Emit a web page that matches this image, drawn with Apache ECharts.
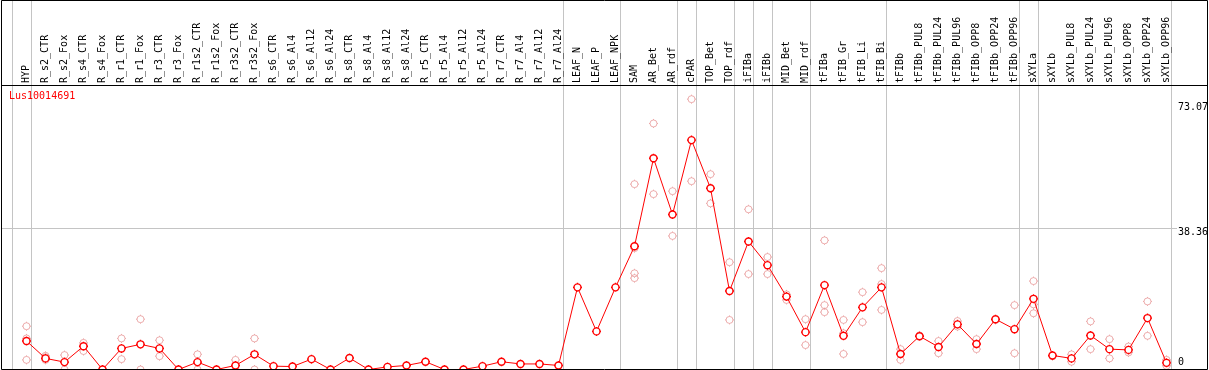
<!DOCTYPE html>
<html><head><meta charset="utf-8">
<script src="https://cdn.jsdelivr.net/npm/echarts@6/dist/echarts.min.js"></script>
<style>html,body{margin:0;padding:0;background:#fff;overflow:hidden}#c{width:1209px;height:370px}</style>
</head><body><div id="c"></div><script>
const geneName = 'Lus10014691';
const categories = ['HYP','R_s2_CTR','R_s2_Fox','R_s4_CTR','R_s4_Fox','R_r1_CTR','R_r1_Fox','R_r3_CTR','R_r3_Fox','R_r1s2_CTR','R_r1s2_Fox','R_r3s2_CTR','R_r3s2_Fox','R_s6_CTR','R_s6_Al4','R_s6_Al12','R_s6_Al24','R_s8_CTR','R_s8_Al4','R_s8_Al12','R_s8_Al24','R_r5_CTR','R_r5_Al4','R_r5_Al12','R_r5_Al24','R_r7_CTR','R_r7_Al4','R_r7_Al12','R_r7_Al24','LEAF_N','LEAF_P','LEAF_NPK','SAM','AR_Bet','AR_rdf','cPAR','TOP_Bet','TOP_rdf','iFIBa','iFIBb','MID_Bet','MID_rdf','tFIBa','tFIB_Gr','tFIB_Li','tFIB_Bi','tFIBb','tFIBb_PUL8','tFIBb_PUL24','tFIBb_PUL96','tFIBb_OPP8','tFIBb_OPP24','tFIBb_OPP96','sXYLa','sXYLb','sXYLb_PUL8','sXYLb_PUL24','sXYLb_PUL96','sXYLb_OPP8','sXYLb_OPP24','sXYLb_OPP96'];
const meanValues = [7.7,3.0,2.0,6.3,0,5.7,6.8,5.7,0,2.0,0,1.1,4.1,0.9,0.8,2.8,0,3.1,0,0.7,1.1,2.1,0,0,0.9,2.1,1.5,1.5,1.1,22.2,10.3,22.2,33.3,57.1,41.9,62.0,49.0,21.2,34.6,28.2,19.7,10.1,22.8,9.1,16.8,22.2,4.2,9.0,6.1,12.2,6.9,13.6,10.9,19.1,3.8,3.0,9.2,5.5,5.3,13.9,1.8];
const rep1 = [11.7,3.7,3.9,7.2,0,8.4,13.6,7.9,0,4.1,0,2.6,8.4,null,null,null,null,null,null,null,null,null,null,null,null,null,null,null,null,null,null,null,50.1,66.5,48.2,73.07,52.8,29.0,43.3,30.4,20.3,13.6,34.9,13.4,20.9,27.4,5.5,9.2,7.7,13.1,8.2,13.4,17.4,23.9,3.6,4.1,13.0,8.2,6.2,18.4,2.6];
const rep2 = [8.4,2.6,0,5.0,null,2.8,0,3.6,null,0,null,0,0,null,null,null,null,null,null,null,null,null,null,null,null,null,null,null,null,null,null,null,26.0,47.4,36.1,50.9,44.9,13.4,25.8,25.8,18.8,6.6,17.4,4.2,12.8,23.1,2.6,null,4.4,11.6,5.5,null,4.4,17.6,null,2.1,5.5,3.0,4.6,9.1,1.0];
const rep3 = [2.6,3.3,null,null,null,null,null,null,null,null,null,null,null,null,null,null,null,null,null,null,null,null,null,null,null,null,null,null,null,null,null,null,24.7,null,null,null,null,null,null,null,null,null,15.5,9.8,null,16.1,null,null,null,null,null,null,null,15.2,null,null,null,null,null,null,null];
const rep4 = [null,null,null,null,null,null,null,null,null,null,null,null,null,null,null,null,null,null,null,null,null,null,null,null,null,null,null,null,null,null,null,null,32.8,null,null,null,null,null,null,null,null,null,null,null,null,null,null,null,null,null,null,null,null,null,null,null,null,null,null,null,null];
const groupEnds = [-1,0,28,31,34,35,37,38,39,41,45,52,53,60];
const yTickValues = [0, 38.36, 73.07];
const midLineValue = 38.36;

const FONT = 'DejaVu Sans Mono';
const sym = 'path://M3.5,0A3.5,3.5,0,1,1,-3.5,0A3.5,3.5,0,1,1,3.5,0Z M0,-3.5L0,-4.5 M0,3.5L0,4.5 M-3.5,0L-4.5,0 M3.5,0L4.5,0';

function repSeries(arr) {
  return {
    type: 'scatter', data: arr, symbol: sym, symbolSize: 9, z: 2, silent: true,
    itemStyle: { color: 'rgba(255,255,255,0)', borderColor: '#e99a9a', borderWidth: 1 }
  };
}

const chart = echarts.init(document.getElementById('c'), null, { renderer: 'canvas' });
const option = {
  animation: false,
  backgroundColor: '#fff',
  title: { text: geneName, left: 9, top: 91, padding: 0,
    textStyle: { color: '#ff0000', fontSize: 10, fontWeight: 'normal', fontFamily: FONT } },
  grid: { left: 17, width: 1159, top: 85, height: 284.5, containLabel: false, outerBoundsMode: 'none' },
  xAxis: {
    type: 'category', data: categories, position: 'top', boundaryGap: true,
    axisLine: { show: true, onZero: false, lineStyle: { color: '#000', width: 1 } },
    axisTick: { show: false }, splitLine: { show: false },
    axisLabel: { interval: 0, rotate: -90, margin: 2, color: '#000', fontSize: 10, fontFamily: FONT }
  },
  yAxis: {
    type: 'value', position: 'right', min: 0, max: 76.9,
    axisLine: { show: false }, axisTick: { show: false }, splitLine: { show: false },
    axisLabel: {
      customValues: yTickValues, margin: 2, color: '#000', fontSize: 10, fontFamily: FONT,
      formatter: function (v) {
        if (v === 0) return '{t|0}\n{s0| }';
        if (v > 60) return '{s1| }\n{t|' + v.toFixed(2) + '}';
        return '{s2| }\n{t|' + v.toFixed(2) + '}';
      },
      rich: {
        t: { fontSize: 10, fontFamily: FONT, color: '#000', lineHeight: 12 },
        s0: { fontSize: 1, lineHeight: 15 },
        s1: { fontSize: 1, lineHeight: 17 },
        s2: { fontSize: 1, lineHeight: 9 }
      }
    }
  },
  series: [
    repSeries(rep1), repSeries(rep2), repSeries(rep3), repSeries(rep4),
    {
      type: 'line', data: meanValues, symbol: sym, symbolSize: 9, z: 3, silent: true,
      lineStyle: { color: '#ff0000', width: 1 },
      itemStyle: { color: '#ffffff', borderColor: '#ff0000', borderWidth: 1.4 }
    }
  ]
};
chart.setOption(option);

// decorations computed through the library's scales
const c0 = chart.convertToPixel({ xAxisIndex: 0 }, 0);
const c1 = chart.convertToPixel({ xAxisIndex: 0 }, 1);
const step = c1 - c0;
const gridRight = 17 + 1159;
const gfx = [];
groupEnds.forEach(function (k) {
  const x = Math.round(c0 + step * k + 4) + 0.5;
  gfx.push({ type: 'line', z: 0, silent: true, shape: { x1: x, y1: 0, x2: x, y2: 369 },
    style: { stroke: '#c4c4c4', lineWidth: 1 } });
});
const yMid = Math.round(chart.convertToPixel({ yAxisIndex: 0 }, midLineValue)) + 0.5;
gfx.push({ type: 'line', z: 0, silent: true, shape: { x1: 1, y1: yMid, x2: gridRight + 1, y2: yMid },
  style: { stroke: '#c4c4c4', lineWidth: 1 } });
gfx.push({ type: 'rect', z: 10, silent: true, shape: { x: 1.5, y: 0.5, width: 1206, height: 369 },
  style: { fill: null, stroke: '#000', lineWidth: 1 } });
gfx.push({ type: 'line', z: 10, silent: true, shape: { x1: 1, y1: 85.5, x2: 1208, y2: 85.5 },
  style: { stroke: '#000', lineWidth: 1 } });
chart.setOption({ graphic: { elements: gfx } });
</script></body></html>
